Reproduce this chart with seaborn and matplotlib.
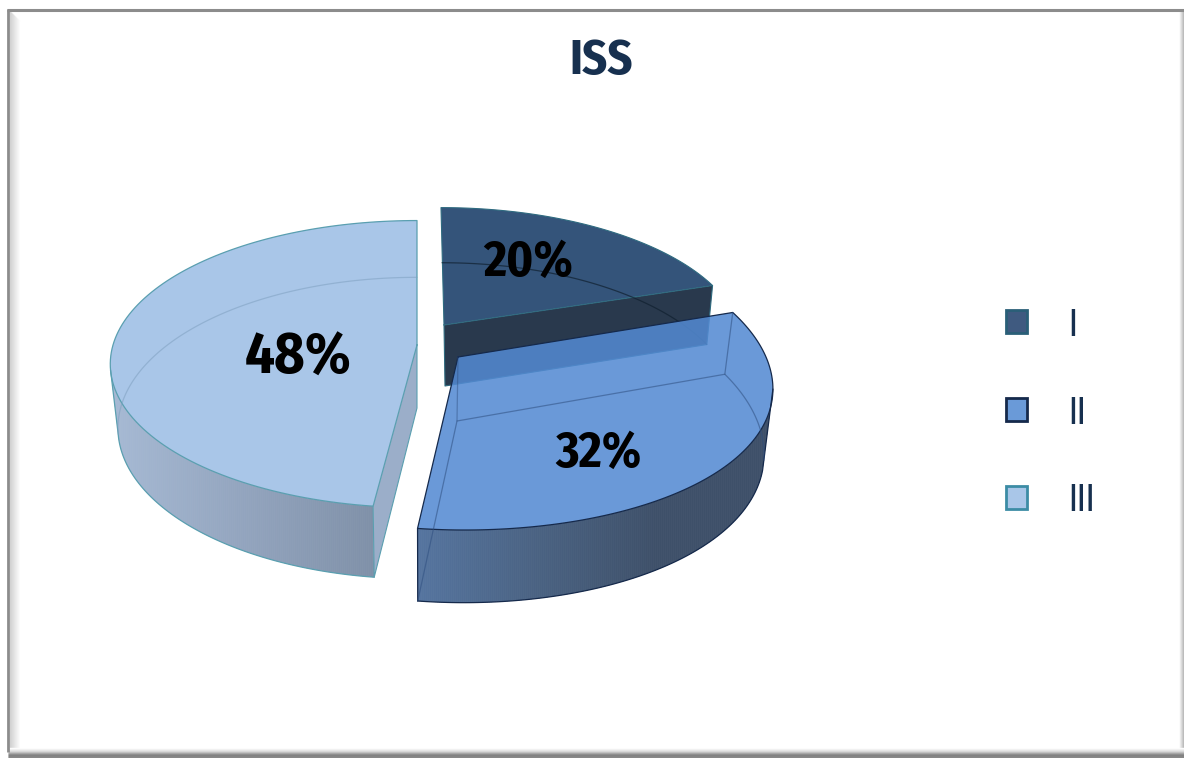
import numpy as np
import matplotlib
matplotlib.use("Agg")
import matplotlib.pyplot as plt
from matplotlib.collections import PolyCollection
from matplotlib.patches import Patch, Polygon
import seaborn as sns

categories = ["I", "II", "III"]
values = [20, 32, 48]
title_text = "ISS"

top_colors = ["#34547A", "#538AD2", "#A9C6E8"]
edge_colors = ["#2F6B80", "#15294B", "#5A9FB0"]
legend_faces = ["#3F5A80", "#6A9AD8", "#A9C6E8"]
BOLD_FONT = ["Fira Sans Condensed", "Liberation Sans", "DejaVu Sans"]
LEGEND_FONT = ["Archivo Narrow", "Liberation Sans", "DejaVu Sans"]

sns.set_theme(style="white")
plt.rcParams["font.family"] = LEGEND_FONT

fig = plt.figure(figsize=(11.84, 7.58), dpi=100, facecolor="white")
ax = fig.add_axes([0, 0, 1, 1])
ax.set_xlim(0, 1184)
ax.set_ylim(758, 0)
ax.axis("off")

K = 0.133
# per-slice layout: apex, bottom apex, radii, skew, horizontal perspective
LAYOUT = {
    "I":   dict(c=(444, 325), d=(445, 386), a=295, b=133, s=-3, kx=K, top_alpha=1.0),
    "II":  dict(c=(458, 357), d=(457, 421), a=308, b=150, s=-7, kx=0.187, top_alpha=0.865),
    "III": dict(c=(417, 345), d=(417, 408), a=304, b=141, s=0, kx=K, top_alpha=1.0),
}


def project(name, deg, bottom=False):
    p = LAYOUT[name]
    t = np.radians(deg)
    u, v = np.sin(t), np.cos(t)
    cx, cy = p["d"] if bottom else p["c"]
    sx, sy = (0.975, 1.05) if bottom else (1, 1)
    return np.column_stack([cx + sx * p["a"] * u / (1 + p["kx"] * v) + p["s"] * v,
                            cy - sy * p["b"] * v / (1 + K * v)])


def arc(start, end, n=120):
    return np.linspace(start, end, n)


total = sum(values)
cum = np.concatenate([[0], np.cumsum(values)]) * 360 / total
span = {c: (cum[i], cum[i + 1]) for i, c in enumerate(categories)}


def gradient_wall(poly_xy, stops, z):
    """Fill a polygon with a left-to-right colour ramp."""
    clip = Polygon(poly_xy, closed=True, transform=ax.transData)
    x0, x1 = poly_xy[:, 0].min() - 1, poly_xy[:, 0].max() + 1
    y0, y1 = poly_xy[:, 1].min() - 1, poly_xy[:, 1].max() + 1
    xs = np.arange(x0, x1 + 2, 2.0)
    cols = sns.blend_palette(stops, len(xs) - 1)
    strips = [[(xs[i], y0), (xs[i + 1], y0), (xs[i + 1], y1), (xs[i], y1)] for i in range(len(xs) - 1)]
    pc = PolyCollection(strips, facecolors=cols, edgecolors=cols, linewidths=0.5, zorder=z)
    ax.add_collection(pc)
    pc.set_clip_path(clip)


def outline(xy, color, z, lw=1.0, alpha=1.0):
    ax.plot(xy[:, 0], xy[:, 1], color=color, lw=lw, alpha=alpha, zorder=z, solid_capstyle="round")


def top_face(name, z):
    i = categories.index(name)
    s, e = span[name]
    p = LAYOUT[name]
    pts = np.vstack([[p["c"]], project(name, arc(s, e))])
    ax.add_patch(Polygon(pts, closed=True, facecolor=top_colors[i], edgecolor="none",
                         alpha=p["top_alpha"], zorder=z))
    return np.vstack([pts, pts[:1]])


# --- slice I (furthest back)
s, e = span["I"]
p = LAYOUT["I"]
corner_t, corner_b = project("I", e), project("I", e, True)
ax.add_patch(Polygon([p["c"], corner_t[0], corner_b[0], p["d"]], closed=True, facecolor="#29394D",
                     edgecolor="none", zorder=2))
top = top_face("I", 3)
outline(top, edge_colors[0], 4, lw=0.8)
outline(np.array([p["c"], p["d"], corner_b[0], corner_t[0]]), edge_colors[0], 4, lw=0.8)
outline(project("I", arc(s, e), True), "#10202F", 4, lw=0.9, alpha=0.7)

# --- slice III
s, e = span["III"]
p = LAYOUT["III"]
TANGENT_III = 260
wall = np.vstack([project("III", arc(s, TANGENT_III)), project("III", arc(TANGENT_III, s), True)])
gradient_wall(wall, ["#A6B9D4", "#7F90A8"], 5)
ct, cb = project("III", s), project("III", s, True)
ax.add_patch(Polygon([p["c"], ct[0], cb[0], p["d"]], closed=True, facecolor="#9BAEC9", edgecolor="none", zorder=6))
top = top_face("III", 7)
outline(top, edge_colors[2], 8, lw=0.9)
outline(np.vstack([[p["c"]], [p["d"]], cb, ct]), edge_colors[2], 8, lw=0.8)
outline(np.vstack([project("III", arc(s, TANGENT_III), True), project("III", [TANGENT_III])]), edge_colors[2], 8, lw=0.9)
outline(project("III", arc(TANGENT_III, 360), True), "#7FA0C0", 8, lw=0.9, alpha=0.55)

# --- slice II (front)
s, e = span["II"]
p = LAYOUT["II"]
TOP_T, BOT_T = 102, 107.5
wall = np.vstack([project("II", arc(TOP_T, e)), project("II", arc(e, BOT_T), True)])
gradient_wall(wall, ["#55749F", "#4A6282", "#3E5069", "#3E5069"], 9)
top = top_face("II", 10)
outline(top, edge_colors[1], 11, lw=0.9)
bot = project("II", arc(BOT_T, e), True)
outline(np.vstack([project("II", [TOP_T]), bot]), edge_colors[1], 11, lw=0.9)
cs_t, cs_b = project("II", s), project("II", s, True)
ce_t, ce_b = project("II", e), project("II", e, True)
outline(np.vstack([ce_t, ce_b]), edge_colors[1], 11, lw=0.9)
ghost = "#2F4F80"
outline(np.vstack([cs_t, cs_b, [p["d"]], ce_b]), ghost, 11, lw=0.9, alpha=0.55)
outline(np.array([p["c"], p["d"]]), ghost, 11, lw=0.9, alpha=0.45)
outline(project("II", arc(s, 104), True), ghost, 11, lw=0.9, alpha=0.55)

# --- percentage labels
LABEL_POS = {"I": (528, 263, 36), "II": (598, 454, 36), "III": (298, 358, 42)}
for c, v in zip(categories, values):
    x, y, fs = LABEL_POS[c]
    ax.text(x, y, f"{v}%", ha="center", va="center", fontsize=fs, fontweight="bold",
            color="black", family=BOLD_FONT, zorder=20)

ax.text(601, 61, title_text, ha="center", va="center", fontsize=35, fontweight="bold",
        color="#17304F", family=BOLD_FONT, zorder=20)

# --- legend
handles = [Patch(facecolor=f, edgecolor=ec, linewidth=2.0) for f, ec in zip(legend_faces, ["#2A5F78", "#15294B", "#3C8CA5"])]
leg = ax.legend(handles, categories, loc="center left", bbox_to_anchor=(1006, 413), bbox_transform=ax.transData,
                frameon=False, fontsize=28, labelcolor="#17304F", handlelength=0.54, handleheight=0.54,
                handletextpad=1.07, labelspacing=1.36, borderpad=0, borderaxespad=0)
leg.set_zorder(20)

# --- bevelled frame
for i, col in enumerate(sns.blend_palette(["#D2D2D2", "#FFFFFF"], 11)):
    ax.plot([9.5 + i, 9.5 + i], [11 + i, 751], color=col, lw=1.0, zorder=1, solid_capstyle="butt")
for i, col in enumerate(sns.blend_palette(["#FFFFFF", "#B0B0B0"], 6)):
    ax.plot([1178.5 + i, 1178.5 + i], [11, 751], color=col, lw=1.0, zorder=1, solid_capstyle="butt")
for i, col in enumerate(sns.blend_palette(["#FFFFFF", "#D8D8D8", "#808080", "#8A8A8A"], 11)):
    ax.plot([8, 1184], [747.5 + i, 747.5 + i], color=col, lw=1.0, zorder=1.5, solid_capstyle="butt")
ax.plot([8, 8], [9, 752], color="#8C8C8C", lw=2.0, zorder=2, solid_capstyle="butt")
ax.plot([7, 1184], [10, 10], color="#8C8C8C", lw=2.2, zorder=2, solid_capstyle="butt")

fig.savefig("out.png", dpi=100, facecolor="white")
